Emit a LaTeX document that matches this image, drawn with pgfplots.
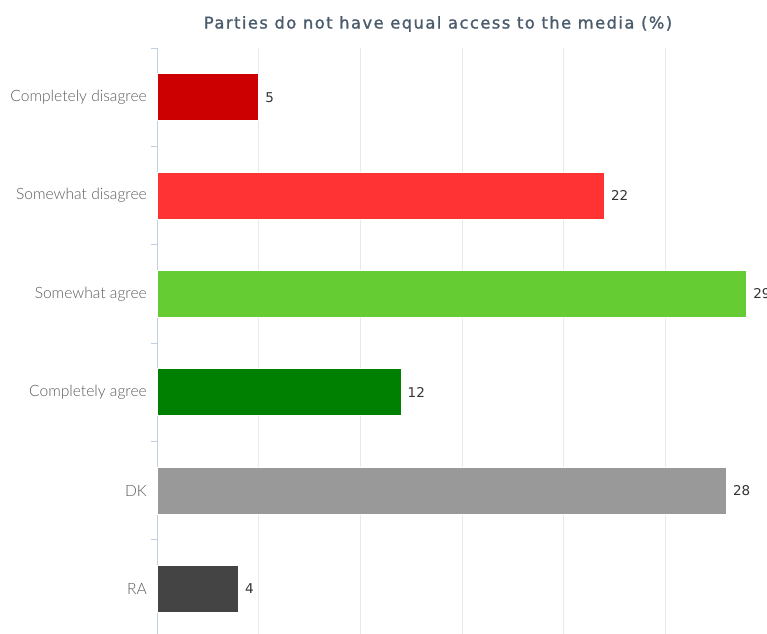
\documentclass[border=0pt]{standalone}
\usepackage{fontspec}
\setmainfont{Lato}
\newfontfamily\titlefont[LetterSpace=9, FakeBold=1.3]{DejaVu Sans}
\newfontfamily\labfont{Lato Light}
\newfontfamily\numfont{DejaVu Sans}
\usepackage{pgfplots}
\pgfplotsset{compat=1.18}
\definecolor{cda}{HTML}{CC0000}
\definecolor{sda}{HTML}{FF3333}
\definecolor{sa}{HTML}{66CC33}
\definecolor{ca}{HTML}{008000}
\definecolor{dk}{HTML}{999999}
\definecolor{ra}{HTML}{444444}
\definecolor{axiscol}{HTML}{C0D0E0}
\definecolor{gridcol}{HTML}{E6E9EE}
\definecolor{titlecol}{HTML}{4A5B6C}
\definecolor{labcol}{HTML}{5A5A5A}
\begin{document}
\begin{tikzpicture}[x=1pt,y=1pt]
\path[use as bounding box] (0,0) rectangle (767,-633);
\node[font=\titlefont\fontsize{16.3}{19}\selectfont, text=titlecol] at (438,-24) {Parties do not have equal access to the media (\%)};
\begin{axis}[
  at={(157pt,-48pt)}, anchor=north west,
  scale only axis, width=610pt, height=590pt,
  xbar, bar shift=0pt, bar width=47pt,
  xmin=0, xmax=30, ymin=0.5, ymax=6.5, y dir=reverse,
  axis x line*=bottom, axis y line*=left,
  x axis line style={draw=none},
  y axis line style={draw=axiscol, line width=0.8pt},
  xtick={5,10,...,30}, xticklabels={},
  xmajorgrids, grid style={draw=gridcol, line width=0.8pt},
  ytick={1,...,6},
  yticklabels={Completely disagree, Somewhat disagree, Somewhat agree, Completely agree, DK, RA},
  minor ytick={0.5,1.5,...,6.5},
  major tick length=0pt, minor tick length=6pt, tick align=outside,
  minor y tick style={draw=axiscol, line width=0.8pt},
  major x tick style={draw=none},
  yticklabel style={font=\labfont\fontsize{15.6}{18}\selectfont, text=labcol, inner sep=0pt, xshift=-10pt},
  /pgf/number format/assume math mode=true,
  nodes near coords,
  every node near coord/.append style={font=\numfont\fontsize{13.5}{16}\selectfont, text=black!80, anchor=west, xshift=3pt},
  clip=false,
]
\addplot[fill=cda, draw=white, line width=0.8pt] coordinates {(5,1)};
\addplot[fill=sda, draw=white, line width=0.8pt] coordinates {(22,2)};
\addplot[fill=sa, draw=white, line width=0.8pt] coordinates {(29,3)};
\addplot[fill=ca, draw=white, line width=0.8pt] coordinates {(12,4)};
\addplot[fill=dk, draw=white, line width=0.8pt] coordinates {(28,5)};
\addplot[fill=ra, draw=white, line width=0.8pt] coordinates {(4,6)};
\end{axis}
\end{tikzpicture}
\end{document}
